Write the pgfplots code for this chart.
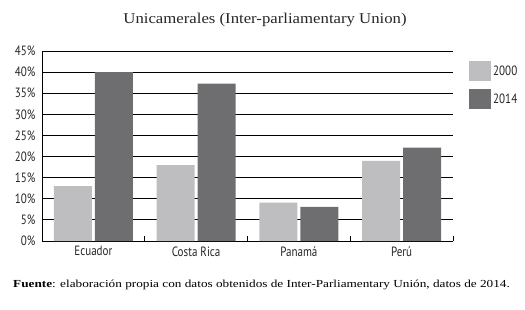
\documentclass[border=0pt]{standalone}
\usepackage{pgfplots}
\pgfplotsset{compat=1.18}
\usepackage{fontspec}
\setmainfont{Liberation Serif}
\newfontfamily\titlefont[FakeStretch=1.12]{Liberation Serif}
\newfontfamily\footfont[FakeStretch=1.23]{Liberation Serif}
\newfontfamily\cond[FakeStretch=0.82]{PT Sans}
\definecolor{cLight}{RGB}{190,190,192}
\definecolor{cDark}{RGB}{110,110,112}
\begin{document}
\begin{tikzpicture}
\useasboundingbox (-42bp,-69bp) rectangle (483bp,241bp);
\begin{axis}[
  scale only axis,
  width=411bp, height=190bp,
  xmin=-0.5, xmax=3.5,
  ymin=0, ymax=45,
  ybar=3bp, bar width=38bp,
  axis x line*=bottom, axis y line*=left,
  axis line style={black, line width=0.8pt},
  xtick={0,1,2,3},
  xticklabels={Ecuador,Costa Rica,Panam\'a,Per\'u},
  minor xtick={0.5,1.5,2.5,3.5},
  major x tick style={draw=none},
  minor tick length=5bp,
  tick align=inside,
  minor x tick style={black, line width=0.8pt},
  ytick={0,5,...,45},
  yticklabels={0\%,5\%,10\%,15\%,20\%,25\%,30\%,35\%,40\%,45\%},
  major y tick style={draw=none},
  ymajorgrids,
  grid style={black, line width=0.8pt},
  tick label style={font=\cond\fontsize{13.5}{15}\selectfont, text=black!85},
  xticklabel style={yshift=-2bp},
  yticklabel style={xshift=-3bp},
  legend style={at={(1.039,0.947)}, anchor=north west, draw=none,
    font=\cond\fontsize{13.5}{15}\selectfont, text=black!85, row sep=8bp, inner sep=0pt,
    legend cell align=left},
  legend image code/.code={\fill[#1] (0bp,-10bp) rectangle (22bp,10bp);},
]
\addplot[fill=cLight, draw=none] coordinates {(0,13) (1,18) (2,9.1) (3,19)};
\addplot[fill=cDark, draw=none] coordinates {(0,40) (1,37.3) (2,8.1) (3,22.1)};
\legend{2000,2014}
\end{axis}
\node[font=\titlefont\fontsize{15}{17}\selectfont, text=black!85] at (223bp,221bp) {Unicamerales (Inter-parliamentary Union)};
\node[anchor=west, font=\footfont\fontsize{10.8}{12}\selectfont, inner sep=0pt] at (-29bp,-44bp) {\textbf{Fuente}: elaboración propia con datos obtenidos de Inter-Parliamentary Unión, datos de 2014.};
\end{tikzpicture}
\end{document}
